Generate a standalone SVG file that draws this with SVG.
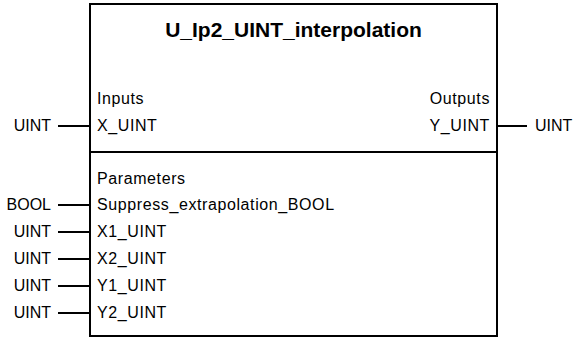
<svg xmlns="http://www.w3.org/2000/svg" width="582" height="339" viewBox="0 0 582 339">
<style>
.t{font-family:"Liberation Sans",Arial,sans-serif;font-size:16px;fill:#000}
.l{letter-spacing:0.6px}
.r{text-anchor:end}
.title{font-family:"Liberation Sans",Arial,sans-serif;font-size:21px;font-weight:bold;text-anchor:middle;fill:#000}
.box{fill:#fff;stroke:#000;stroke-width:2}
.c{stroke:#000;stroke-width:2;fill:none}
</style>
<rect width="582" height="339" fill="#fff"/>
<g id="block">
<rect class="box" x="90" y="4" width="407" height="332"/>
<line class="c" x1="90" y1="152" x2="497" y2="152"/>
<text class="title" x="293.5" y="37">U_Ip2_UINT_interpolation</text>
<text class="t l" x="97" y="104">Inputs</text>
<text class="t l" x="97" y="131">X_UINT</text>
<text class="t l r" x="490" y="104">Outputs</text>
<text class="t l r" x="490" y="131">Y_UINT</text>
<text class="t l" x="97" y="184">Parameters</text>
<text class="t l" x="97" y="210">Suppress_extrapolation_BOOL</text>
<text class="t l" x="97" y="237">X1_UINT</text>
<text class="t l" x="97" y="264">X2_UINT</text>
<text class="t l" x="97" y="291">Y1_UINT</text>
<text class="t l" x="97" y="318">Y2_UINT</text>
</g>
<g id="io-labels">
<text class="t r" x="51" y="131">UINT</text>
<text class="t" x="535" y="131">UINT</text>
<text class="t r" x="51" y="210">BOOL</text>
<text class="t r" x="51" y="237">UINT</text>
<text class="t r" x="51" y="264">UINT</text>
<text class="t r" x="51" y="291">UINT</text>
<text class="t r" x="51" y="318">UINT</text>
</g>
<g id="connectors">
<line class="c" x1="58" y1="126" x2="90" y2="126"/>
<line class="c" x1="497" y1="126" x2="527" y2="126"/>
<line class="c" x1="58" y1="205" x2="90" y2="205"/>
<line class="c" x1="58" y1="232" x2="90" y2="232"/>
<line class="c" x1="58" y1="259" x2="90" y2="259"/>
<line class="c" x1="58" y1="286" x2="90" y2="286"/>
<line class="c" x1="58" y1="313" x2="90" y2="313"/>
</g>
</svg>
